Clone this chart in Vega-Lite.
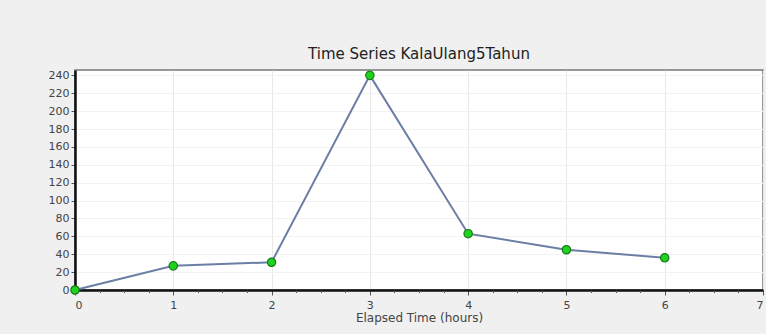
{
  "$schema": "https://vega.github.io/schema/vega-lite/v6.json",
  "autosize": {"type": "none"},
  "width": 688,
  "height": 220,
  "padding": {"left": 75, "top": 70, "right": 3, "bottom": 44},
  "background": "#f0f0f0",
  "title": {"text": "Time Series KalaUlang5Tahun", "font": "DejaVu Sans", "fontSize": 15, "fontWeight": "normal", "color": "#222222", "offset": 7},
  "config": {
    "view": {"fill": "white", "stroke": "#777777", "strokeWidth": 1.5},
    "axis": {"labelFont": "DejaVu Sans", "titleFont": "DejaVu Sans", "labelColor": "#444444", "titleColor": "#444444", "labelFontSize": 11, "titleFontSize": 12, "titleFontWeight": "normal", "domainColor": "#111111", "domainWidth": 2.5, "tickColor": "#555555", "labelOverlap": false}
  },
  "data": {"values": [
    {"t": 0, "v": 0},
    {"t": 1, "v": 27},
    {"t": 2, "v": 31},
    {"t": 3, "v": 240},
    {"t": 4, "v": 63},
    {"t": 5, "v": 45},
    {"t": 6, "v": 36}
  ]},
  "encoding": {
    "x": {"field": "t", "type": "quantitative", "scale": {"domain": [0, 7], "nice": false}, "axis": {"title": "Elapsed Time (hours)", "values": [0,1,2,3,4,5,6,7], "format": "d", "gridColor": "#e8e8e8", "tickSize": 5, "labelPadding": 4, "titlePadding": 2}},
    "y": {"field": "v", "type": "quantitative", "scale": {"domain": [0, 246], "nice": false}, "axis": {"title": null, "values": [0,20,40,60,80,100,120,140,160,180,200,220,240], "labelOverlap": false, "labelFlush": false, "gridColor": "#f2f2f2", "tickSize": 4, "labelPadding": 2}}
  },
  "resolve": {"axis": {"x": "independent"}},
  "layer": [
    {
      "mark": {"type": "line", "color": "#6b7fa6", "strokeWidth": 2}
    },
    {
      "mark": {"type": "point", "filled": true, "fill": "#1ed31e", "stroke": "#1a7a1a", "strokeWidth": 1.2, "size": 70, "opacity": 1},
      "encoding": {
        "x": {"field": "t", "type": "quantitative", "axis": {"orient": "bottom", "title": null, "labels": false, "grid": false, "domain": false, "tickSize": 2.5, "values": [0.25,0.5,0.75,1.25,1.5,1.75,2.25,2.5,2.75,3.25,3.5,3.75,4.25,4.5,4.75,5.25,5.5,5.75,6.25,6.5,6.75]}},
        "y": {"field": "v", "type": "quantitative"}
      }
    }
  ]
}
